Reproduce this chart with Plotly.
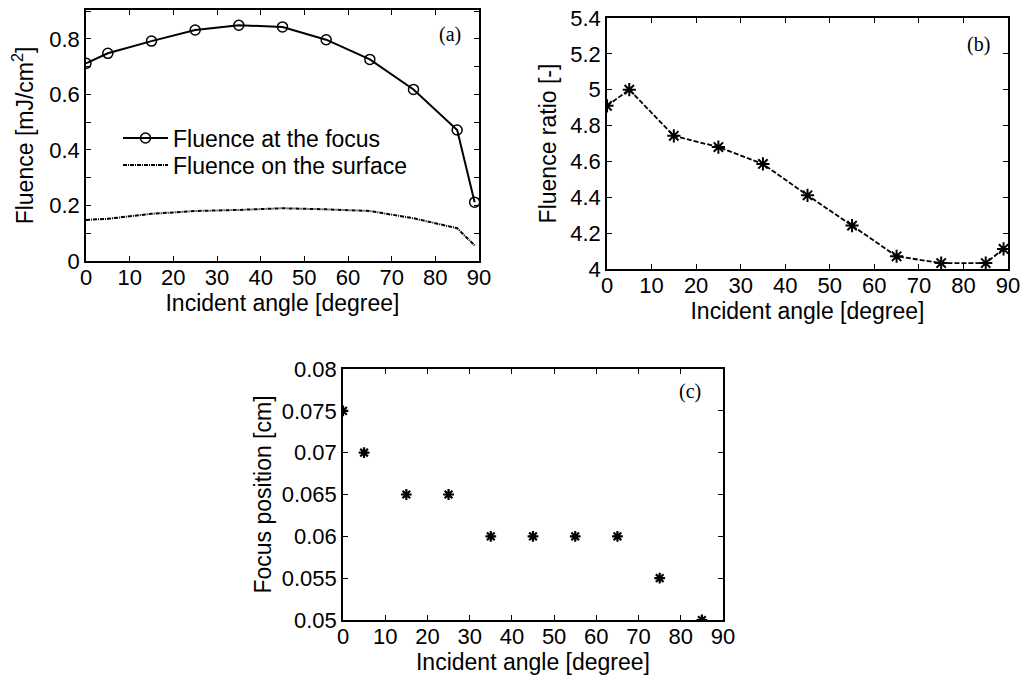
import plotly.graph_objects as go

# ---- data ----
angle_a = [0, 5, 15, 25, 35, 45, 55, 65, 75, 85, 89]
fluence_focus = [0.712, 0.748, 0.792, 0.832, 0.849, 0.843, 0.797, 0.726, 0.618, 0.472, 0.212]
fluence_surface = [0.148, 0.152, 0.170, 0.180, 0.184, 0.190, 0.186, 0.180, 0.154, 0.118, 0.056]

angle_b = [0, 5, 15, 25, 35, 45, 55, 65, 75, 85, 89]
fluence_ratio = [4.91, 5.00, 4.743, 4.68, 4.586, 4.411, 4.242, 4.071, 4.033, 4.033, 4.112]

angle_c = [0, 5, 15, 25, 35, 45, 55, 65, 75, 85]
focus_pos = [0.075, 0.070, 0.065, 0.065, 0.060, 0.060, 0.060, 0.060, 0.055, 0.050]

x_ticks = [0, 10, 20, 30, 40, 50, 60, 70, 80, 90]
ya_vals = [0, 0.2, 0.4, 0.6, 0.8]
ya_text = ["0", "0.2", "0.4", "0.6", "0.8"]
yb_vals = [4, 4.2, 4.4, 4.6, 4.8, 5, 5.2, 5.4]
yb_text = ["4", "4.2", "4.4", "4.6", "4.8", "5", "5.2", "5.4"]
yc_vals = [0.05, 0.055, 0.06, 0.065, 0.07, 0.075, 0.08]
yc_text = ["0.05", "0.055", "0.06", "0.065", "0.07", "0.075", "0.08"]

W, H = 1021, 675
SANS = "Liberation Sans, Arial, sans-serif"
SERIF = "Liberation Serif, Times New Roman, serif"
TICK = 22
TITLE = 23

fig = go.Figure()

fig.add_trace(go.Scatter(
    x=angle_a, y=fluence_focus, mode="lines+markers", name="Fluence at the focus",
    line=dict(color="black", width=2),
    marker=dict(symbol="circle-open", size=10, color="black", line=dict(width=1.5)),
    xaxis="x", yaxis="y", legend="legend"))
fig.add_trace(go.Scatter(
    x=angle_a, y=fluence_surface, mode="lines", name="Fluence on the surface",
    line=dict(color="black", width=2, dash="4px,1px,1px,1px"),
    xaxis="x", yaxis="y", legend="legend2"))
fig.add_trace(go.Scatter(
    x=angle_b, y=fluence_ratio, mode="lines+markers", showlegend=False,
    line=dict(color="black", width=1.8, dash="5px,2px"),
    marker=dict(symbol="asterisk-open", size=11, color="black", line=dict(width=2, color="black")),
    xaxis="x2", yaxis="y2"))
fig.add_trace(go.Scatter(
    x=angle_c, y=focus_pos, mode="markers", showlegend=False,
    marker=dict(symbol="asterisk-open", size=9, color="black", line=dict(width=2.2, color="black")),
    xaxis="x3", yaxis="y3"))


def px_x(p):
    return p / W


def px_y(p):
    return 1 - p / H


axis_common = dict(
    showline=True, linecolor="black", linewidth=1.6, mirror="allticks",
    ticks="inside", ticklen=5, tickwidth=1.4, tickcolor="black",
    showgrid=False, zeroline=False, automargin=False,
    tickfont=dict(family=SANS, size=TICK, color="black"),
)
xaxis_common = dict(range=[0, 90], tickvals=x_ticks, ticklabelstandoff=-4, **axis_common)

xt = dict(text="Incident angle [degree]", font=dict(family=SANS, size=TITLE, color="black"), standoff=2)


def yt(text, standoff):
    return dict(text=text, font=dict(family=SANS, size=TITLE, color="black"), standoff=standoff)


legend_common = dict(xanchor="left", yanchor="middle", bgcolor="rgba(0,0,0,0)", borderwidth=0,
                     itemwidth=45, font=dict(family=SANS, size=TITLE, color="black"))

fig.update_layout(
    width=W, height=H,
    margin=dict(l=0, r=0, t=0, b=0),
    paper_bgcolor="white", plot_bgcolor="white",
    font=dict(family=SANS, size=20, color="black"),
    xaxis=dict(domain=[px_x(86), px_x(479)], anchor="y", title=xt, **xaxis_common),
    yaxis=dict(domain=[px_y(261), px_y(10)], range=[0, 0.904], tickvals=ya_vals, ticktext=ya_text,
               anchor="x", title=yt("Fluence [mJ/cm<sup>2</sup>]", 9),
               minor=dict(ticks="inside", tick0=0, dtick=0.1, ticklen=5, tickwidth=1.4, tickcolor="black",
                          showgrid=False),
               **axis_common),
    xaxis2=dict(domain=[px_x(607), px_x(1008)], anchor="y2", title=xt, **xaxis_common),
    yaxis2=dict(domain=[px_y(269), px_y(18)], range=[4, 5.4], tickvals=yb_vals, ticktext=yb_text,
                anchor="x2", title=yt("Fluence ratio [-]", 7), **axis_common),
    xaxis3=dict(domain=[px_x(343), px_x(723)], anchor="y3", title=xt, **xaxis_common),
    yaxis3=dict(domain=[px_y(620), px_y(369)], range=[0.05, 0.08], tickvals=yc_vals, ticktext=yc_text,
                anchor="x3", title=yt("Focus position [cm]", 4), **axis_common),
    legend=dict(x=px_x(118), y=px_y(138), **legend_common),
    legend2=dict(x=px_x(118), y=px_y(165), **legend_common),
    showlegend=True,
    annotations=[
        dict(text="(a)", x=px_x(450), y=px_y(34), xref="paper", yref="paper", showarrow=False,
             xanchor="center", yanchor="middle", font=dict(family=SERIF, size=20, color="black")),
        dict(text="(b)", x=px_x(978), y=px_y(44), xref="paper", yref="paper", showarrow=False,
             xanchor="center", yanchor="middle", font=dict(family=SERIF, size=20, color="black")),
        dict(text="(c)", x=px_x(690), y=px_y(391), xref="paper", yref="paper", showarrow=False,
             xanchor="center", yanchor="middle", font=dict(family=SERIF, size=20, color="black")),
    ],
)

fig.write_html("out.html", config={"displayModeBar": False},
               post_script="document.body.style.margin='0';document.body.style.overflow='hidden';")
